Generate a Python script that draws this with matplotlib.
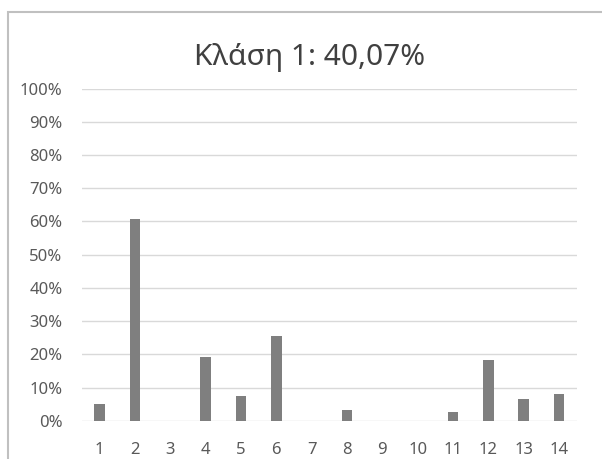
import matplotlib.pyplot as plt
from matplotlib.patches import Rectangle
from matplotlib.ticker import FuncFormatter

categories = ["1", "2", "3", "4", "5", "6", "7", "8", "9", "10", "11", "12", "13", "14"]
values = [5.0, 60.7, 0, 19.3, 7.3, 25.6, 0, 3.1, 0, 0, 2.7, 18.2, 6.6, 8.1]
title = "Κλάση 1: 40,07%"

plt.rcParams['font.family'] = ['Noto Sans', 'DejaVu Sans']

fig = plt.figure(figsize=(6.02, 4.59), dpi=100)
ax = fig.add_axes([0.136, 0.0834, 0.822, 0.7236])

# chart border, cropped at the right and bottom like the screenshot
fig.patches.append(Rectangle((8 / 602, -0.1), 1.2, 1.1 - 12 / 459,
                             transform=fig.transFigure, fill=False,
                             edgecolor="#c0c0c0", linewidth=1.5))

x = range(len(categories))
ax.bar(x, values, width=0.3, color="#7f7f7f", zorder=3)

ax.set_xlim(-0.5, len(categories) - 0.5)
ax.set_ylim(0, 100)
ax.set_yticks(range(0, 101, 10))
ax.yaxis.set_major_formatter(FuncFormatter(lambda v, p: f"{v:.0f}%"))
ax.set_xticks(list(x))
ax.set_xticklabels(categories)

ax.grid(axis="y", color="#d9d9d9", linewidth=1, zorder=0)
for s in ax.spines.values():
    s.set_visible(False)
ax.tick_params(length=0, colors="#595959", labelsize=12)
ax.tick_params(axis="y", pad=14)
ax.tick_params(axis="x", pad=15)

fig.text(310 / 602, 1 - 58 / 459, title, ha="center", va="center",
         fontsize=21.5, color="#404040")

fig.savefig("out.png", dpi=100)
